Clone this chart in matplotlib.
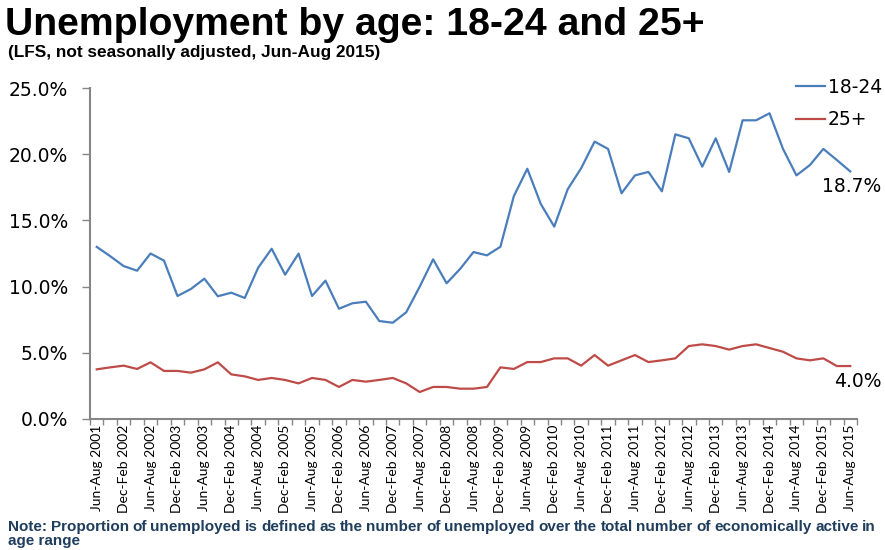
import matplotlib
matplotlib.use("Agg")
import matplotlib.pyplot as plt
import numpy as np

# Quarterly periods, Jun-Aug 2001 .. Jun-Aug 2015
periods = []
for yr in range(2001, 2016):
    for q in ["Jun-Aug", "Sep-Nov", "Dec-Feb", "Mar-May"]:
        y = yr + 1 if q in ("Dec-Feb", "Mar-May") else yr
        periods.append(f"{q} {y}")
periods = periods[:57]

youth_18_24 = [13.0, 12.3, 11.55, 11.2, 12.5, 11.96, 9.29, 9.82, 10.6, 9.27,
               9.54, 9.14, 11.43, 12.86, 10.9, 12.49, 9.29, 10.45, 8.33, 8.74,
               8.86, 7.40, 7.27, 8.06, 9.99, 12.06, 10.25, 11.33, 12.61, 12.36,
               13.01, 16.84, 18.9, 16.24, 14.53, 17.35, 18.94, 20.95, 20.4, 17.05,
               18.4, 18.66, 17.2, 21.5, 21.2, 19.06, 21.2, 18.66, 22.56, 22.56,
               23.09, 20.4, 18.4, 19.18, 20.4, 19.56, 18.7]

adult_25_plus = [3.75, 3.9, 4.03, 3.78, 4.28, 3.63, 3.63, 3.5, 3.75, 4.28,
                 3.37, 3.22, 2.95, 3.1, 2.95, 2.69, 3.1, 2.95, 2.42, 2.95,
                 2.82, 2.95, 3.1, 2.69, 2.04, 2.42, 2.42, 2.29, 2.29, 2.42,
                 3.9, 3.78, 4.3, 4.3, 4.58, 4.58, 4.03, 4.83, 4.03, 4.43,
                 4.83, 4.3, 4.43, 4.58, 5.51, 5.64, 5.51, 5.24, 5.51, 5.64,
                 5.36, 5.08, 4.58, 4.43, 4.58, 4.0, 4.0]

y_ticks = [0, 5, 10, 15, 20, 25]

blue = "#4A7EBB"
red = "#BE4B48"
axis_grey = "#868686"
label_font = "DejaVu Sans"
label_size = 13.5

fig = plt.figure(figsize=(8.85, 5.5), dpi=100)
ax = fig.add_axes([90 / 885, 1 - 419 / 550, (857 - 90) / 885, (419 - 88) / 550])

x = np.arange(len(periods))
ax.plot(x, youth_18_24, color=blue, lw=1.6, label="18-24")
ax.plot(x, adult_25_plus, color=red, lw=1.6, label="25+")

ax.set_xlim(-0.5, len(periods) - 0.5)
ax.set_ylim(0, 25)

ax.set_yticks(y_ticks)
ax.set_yticklabels([f"{v:.1f}%" for v in y_ticks], family=label_font, fontsize=label_size)

# minor ticks at category boundaries, labels on every other period
ax.set_xticks(np.arange(-0.5, len(periods)), minor=True)
ax.set_xticks(x[::2])
ax.set_xticklabels(periods[::2], rotation=90, family="Lato", fontsize=10)
ax.tick_params(axis="x", which="major", length=0, pad=4)
ax.tick_params(axis="x", which="minor", length=4, color=axis_grey, width=1)
ax.tick_params(axis="y", length=6, color=axis_grey, width=1, pad=10)

for side in ("top", "right"):
    ax.spines[side].set_visible(False)
for side in ("left", "bottom"):
    ax.spines[side].set_color(axis_grey)
    ax.spines[side].set_linewidth(1.5)

# end-point value labels
ax.annotate(f"{youth_18_24[-1]:.1f}%", (x[-1], youth_18_24[-1]), xytext=(-20.5, -4),
            textcoords="offset points", va="top", ha="left",
            family=label_font, fontsize=label_size)
ax.annotate(f"{adult_25_plus[-1]:.1f}%", (x[-1], adult_25_plus[-1]), xytext=(-12, -4.5),
            textcoords="offset points", va="top", ha="left",
            family=label_font, fontsize=label_size)

leg = fig.legend(loc="upper left", bbox_to_anchor=(796 / 885, 1 - 78 / 550),
                 frameon=False, prop={"family": label_font, "size": label_size},
                 handlelength=1.55, handletextpad=0.15, labelspacing=0.7,
                 borderaxespad=0, borderpad=0)

fig.text(5 / 885, 1 - 35 / 550, "Unemployment by age: 18-24 and 25+",
         family="Liberation Sans", weight="bold", fontsize=28.2, va="baseline")
fig.text(8 / 885, 1 - 57 / 550, "(LFS, not seasonally adjusted, Jun-Aug 2015)",
         family="Liberation Sans", weight="bold", fontsize=12.4, va="baseline")

# justified note along the bottom
note_color = "#1F3D5C"
note_font = dict(family="Liberation Sans", weight="bold", fontsize=11,
                 color=note_color, va="baseline")
note_line1 = ("Note: Proportion of unemployed is defined as the number of unemployed "
              "over the total number of economically active in").split()
note_line2 = "age range"
fig.canvas.draw()
renderer = fig.canvas.get_renderer()
left_px, right_px = 8, 876
word_artists = []
widths = []
for w in note_line1:
    t = fig.text(0, 1 - 531 / 550, w, **note_font)
    word_artists.append(t)
    widths.append(t.get_window_extent(renderer).width)
gap = (right_px - left_px - sum(widths)) / (len(widths) - 1)
pos = left_px
for t, wd in zip(word_artists, widths):
    t.set_x(pos / 885)
    pos += wd + gap
fig.text(left_px / 885, 1 - 545 / 550, note_line2, **note_font)

fig.savefig("out.png", dpi=100)
